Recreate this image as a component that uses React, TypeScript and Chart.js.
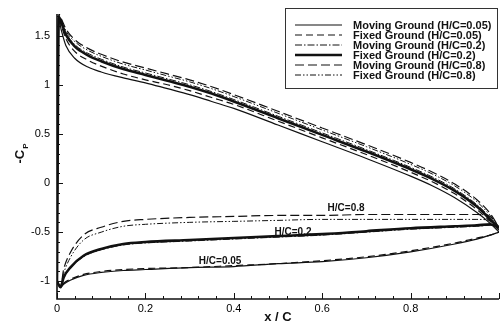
import React, { useEffect, useRef } from "react";
import { Chart, registerables } from "chart.js";

Chart.register(...registerables);

// ---------- data ----------
const X_UPPER = [0, 0.004, 0.01, 0.02, 0.04, 0.07, 0.1, 0.15, 0.2, 0.25, 0.3, 0.35, 0.4, 0.5, 0.6, 0.7, 0.8, 0.85, 0.9, 0.95, 0.98, 1.0];
const X_LOWER = [0, 0.008, 0.015, 0.03, 0.06, 0.1, 0.15, 0.2, 0.3, 0.4, 0.5, 0.6, 0.7, 0.8, 0.9, 0.95, 0.98, 1.0];

const UP_MOVING_005 = [-1.0, 1.66, 1.55, 1.40, 1.27, 1.18, 1.13, 1.07, 1.02, 0.96, 0.90, 0.83, 0.76, 0.59, 0.42, 0.25, 0.07, -0.03, -0.15, -0.30, -0.41, -0.50];
const UP_FIXED_005 = [-1.0, 1.68, 1.60, 1.47, 1.34, 1.25, 1.19, 1.11, 1.05, 1.00, 0.94, 0.87, 0.80, 0.63, 0.46, 0.29, 0.11, 0.01, -0.11, -0.27, -0.39, -0.48];
const UP_MOVING_02 = [-1.0, 1.70, 1.64, 1.53, 1.41, 1.32, 1.26, 1.18, 1.12, 1.06, 1.00, 0.93, 0.85, 0.68, 0.51, 0.34, 0.16, 0.06, -0.06, -0.22, -0.35, -0.45];
const UP_FIXED_02 = [-1.0, 1.69, 1.63, 1.51, 1.39, 1.30, 1.24, 1.16, 1.10, 1.04, 0.98, 0.91, 0.83, 0.66, 0.49, 0.32, 0.14, 0.04, -0.08, -0.24, -0.37, -0.46];
const UP_MOVING_08 = [-1.0, 1.72, 1.67, 1.57, 1.46, 1.37, 1.31, 1.23, 1.17, 1.11, 1.05, 0.98, 0.90, 0.73, 0.56, 0.39, 0.21, 0.11, -0.01, -0.17, -0.31, -0.45];
const UP_FIXED_08 = [-1.0, 1.71, 1.66, 1.55, 1.44, 1.35, 1.29, 1.21, 1.15, 1.09, 1.03, 0.96, 0.88, 0.71, 0.54, 0.37, 0.19, 0.09, -0.03, -0.19, -0.33, -0.45];

const LO_MOVING_005 = [-1.0, -1.06, -1.03, -0.99, -0.94, -0.91, -0.89, -0.88, -0.86, -0.85, -0.82, -0.80, -0.76, -0.70, -0.62, -0.57, -0.53, -0.50];
const LO_FIXED_005 = [-1.0, -1.06, -1.02, -0.98, -0.93, -0.90, -0.88, -0.87, -0.86, -0.84, -0.82, -0.79, -0.75, -0.69, -0.61, -0.56, -0.53, -0.50];
const LO_MOVING_02 = [-1.0, -1.06, -0.97, -0.87, -0.75, -0.68, -0.63, -0.61, -0.59, -0.57, -0.55, -0.53, -0.50, -0.47, -0.45, -0.44, -0.43, -0.45];
const LO_FIXED_02 = [-1.0, -1.06, -0.96, -0.86, -0.74, -0.67, -0.62, -0.60, -0.58, -0.56, -0.54, -0.52, -0.49, -0.46, -0.44, -0.43, -0.42, -0.45];
const LO_MOVING_08 = [-1.0, -1.05, -0.88, -0.71, -0.53, -0.45, -0.39, -0.37, -0.35, -0.34, -0.33, -0.33, -0.32, -0.32, -0.32, -0.32, -0.34, -0.45];
const LO_FIXED_08 = [-1.0, -1.05, -0.92, -0.76, -0.58, -0.50, -0.44, -0.42, -0.40, -0.39, -0.38, -0.37, -0.37, -0.37, -0.37, -0.37, -0.38, -0.45];

const SERIES_NAMES = [
  "Moving Ground (H/C=0.05)",
  "Fixed Ground (H/C=0.05)",
  "Moving Ground (H/C=0.2)",
  "Fixed Ground (H/C=0.2)",
  "Moving Ground (H/C=0.8)",
  "Fixed Ground (H/C=0.8)",
];
const UPPER_SERIES = [UP_MOVING_005, UP_FIXED_005, UP_MOVING_02, UP_FIXED_02, UP_MOVING_08, UP_FIXED_08];
const LOWER_SERIES = [LO_MOVING_005, LO_FIXED_005, LO_MOVING_02, LO_FIXED_02, LO_MOVING_08, LO_FIXED_08];

const Y_TICKS = [-1, -0.5, 0, 0.5, 1, 1.5];
const Y_TICK_LABELS = ["-1", "-0.5", "0", "0.5", "1", "1.5"];
const X_TICKS = [0, 0.2, 0.4, 0.6, 0.8];
const X_TICK_LABELS = ["0", "0.2", "0.4", "0.6", "0.8"];

const CURVE_LABELS = ["H/C=0.8", "H/C=0.2", "H/C=0.05"];
const CURVE_LABEL_X = [0.654, 0.534, 0.369];
const CURVE_LABEL_Y = [-0.255, -0.5, -0.795];

const X_TITLE = "x / C";
const Y_TITLE_MAIN = "-C";
const Y_TITLE_SUB = "P";

// ---------- styles ----------
const STYLES = [
  { width: 1.2, dash: [] as number[] },
  { width: 1.2, dash: [7, 4] },
  { width: 1.0, dash: [7, 2, 1.5, 2] },
  { width: 2.6, dash: [] as number[] },
  { width: 1.2, dash: [9, 4] },
  { width: 1.0, dash: [6, 2, 1.5, 2, 1.5, 2] },
];
const INK = "#111";
const FONT = "'Liberation Sans', Arial, Helvetica, sans-serif";

const Y_MIN = -1.18;
const Y_MAX = 1.72;

const overlay = {
  id: "overlay",
  afterDraw(chart: any) {
    const { ctx, chartArea: a, scales } = chart;
    const xs = scales.x;
    const ys = scales.y;
    ctx.save();
    ctx.strokeStyle = INK;
    ctx.fillStyle = INK;
    ctx.setLineDash([]);

    // axis lines
    ctx.lineWidth = 1.6;
    ctx.beginPath();
    ctx.moveTo(a.left, a.top);
    ctx.lineTo(a.left, a.bottom);
    ctx.lineTo(a.right, a.bottom);
    ctx.stroke();

    // inward ticks
    ctx.lineWidth = 1;
    ctx.beginPath();
    for (let i = -11; i <= 17; i++) {
      const v = i / 10;
      const py = Math.round(ys.getPixelForValue(v)) + 0.5;
      const major = i % 5 === 0;
      ctx.moveTo(a.left, py);
      ctx.lineTo(a.left + (major ? 6 : 3), py);
    }
    for (let i = 0; i <= 25; i++) {
      const v = i * 0.04;
      const px = Math.round(xs.getPixelForValue(v)) + 0.5;
      const major = i % 5 === 0;
      ctx.moveTo(px, a.bottom);
      ctx.lineTo(px, a.bottom - (major ? 6 : 3));
    }
    ctx.stroke();

    // curve labels
    ctx.font = `bold 10px ${FONT}`;
    ctx.textAlign = "center";
    ctx.textBaseline = "middle";
    CURVE_LABELS.forEach((t, i) => {
      ctx.fillText(t, xs.getPixelForValue(CURVE_LABEL_X[i]), ys.getPixelForValue(CURVE_LABEL_Y[i]));
    });

    // x title
    ctx.font = `bold 13px ${FONT}`;
    ctx.fillText(X_TITLE, (a.left + a.right) / 2, 317);

    // y title (rotated, with subscript)
    ctx.save();
    ctx.translate(20, (a.top + a.bottom) / 2 - 3);
    ctx.rotate(-Math.PI / 2);
    ctx.textAlign = "left";
    ctx.textBaseline = "alphabetic";
    ctx.font = `bold 13px ${FONT}`;
    const wMain = ctx.measureText(Y_TITLE_MAIN).width;
    ctx.font = `bold 8px ${FONT}`;
    const wSub = ctx.measureText(Y_TITLE_SUB).width;
    const start = -(wMain + wSub + 1) / 2;
    ctx.font = `bold 13px ${FONT}`;
    ctx.fillText(Y_TITLE_MAIN, start, 4);
    ctx.font = `bold 8px ${FONT}`;
    ctx.fillText(Y_TITLE_SUB, start + wMain + 1, 8);
    ctx.restore();

    // legend
    const lx = 285.5, ly = 8.5, lw = 212, lh = 80;
    ctx.lineWidth = 1;
    ctx.setLineDash([]);
    ctx.fillStyle = "#fff";
    ctx.fillRect(lx, ly, lw, lh);
    ctx.strokeStyle = "#333";
    ctx.strokeRect(lx, ly, lw, lh);
    ctx.fillStyle = INK;
    ctx.strokeStyle = INK;
    ctx.font = `bold 11px ${FONT}`;
    ctx.textAlign = "left";
    ctx.textBaseline = "middle";
    SERIES_NAMES.forEach((name, i) => {
      const yy = 25 + i * 10;
      const st = STYLES[i];
      ctx.lineWidth = st.width;
      ctx.setLineDash(st.dash);
      ctx.beginPath();
      ctx.moveTo(295, yy);
      ctx.lineTo(342, yy);
      ctx.stroke();
      ctx.setLineDash([]);
      ctx.fillText(name, 353, yy + 0.5);
    });

    ctx.restore();
  },
};

export default function App() {
  const ref = useRef<HTMLCanvasElement | null>(null);

  useEffect(() => {
    if (!ref.current) return;
    Chart.defaults.font.family = FONT;
    const datasets: any[] = [];
    UPPER_SERIES.forEach((vals, i) => {
      datasets.push({
        label: SERIES_NAMES[i] + " upper",
        data: X_UPPER.map((x, k) => ({ x, y: vals[k] })),
        borderColor: INK,
        borderWidth: STYLES[i].width,
        borderDash: STYLES[i].dash,
        pointRadius: 0,
        fill: false,
        cubicInterpolationMode: "monotone",
      });
    });
    LOWER_SERIES.forEach((vals, i) => {
      datasets.push({
        label: SERIES_NAMES[i] + " lower",
        data: X_LOWER.map((x, k) => ({ x, y: vals[k] })),
        borderColor: INK,
        borderWidth: STYLES[i].width,
        borderDash: STYLES[i].dash,
        pointRadius: 0,
        fill: false,
        cubicInterpolationMode: "monotone",
      });
    });

    const chart = new Chart(ref.current, {
      type: "line",
      data: { datasets },
      options: {
        animation: false,
        responsive: false,
        maintainAspectRatio: false,
        layout: { padding: { top: 14, right: 1, left: 0, bottom: 0 } },
        plugins: { legend: { display: false }, tooltip: { enabled: false } },
        scales: {
          x: {
            type: "linear",
            min: 0,
            max: 1,
            grid: { display: false, drawTicks: false },
            border: { display: false },
            afterFit: (s: any) => { s.height = 26; },
            afterBuildTicks: (s: any) => { s.ticks = X_TICKS.map((v) => ({ value: v })); },
            ticks: {
              padding: 3,
              color: "#000",
              font: { size: 11, family: FONT },
              maxRotation: 0,
              callback: (v: any) => { const i = X_TICKS.indexOf(Number(v)); return i >= 0 ? X_TICK_LABELS[i] : ""; },
            },
          },
          y: {
            type: "linear",
            min: Y_MIN,
            max: Y_MAX,
            grid: { display: false, drawTicks: false },
            border: { display: false },
            afterFit: (s: any) => { s.width = 57; },
            afterBuildTicks: (s: any) => { s.ticks = Y_TICKS.map((v) => ({ value: v })); },
            ticks: {
              padding: 7,
              color: "#000",
              font: { size: 11, family: FONT },
              callback: (v: any) => { const i = Y_TICKS.indexOf(Number(v)); return i >= 0 ? Y_TICK_LABELS[i] : ""; },
            },
          },
        },
      },
      plugins: [overlay],
    });
    return () => chart.destroy();
  }, []);

  return (
    <div style={{ position: "fixed", left: 0, top: 0, width: 500, height: 325, background: "#fff" }}>
      <canvas ref={ref} width={500} height={325} style={{ display: "block", width: 500, height: 325 }} />
    </div>
  );
}
